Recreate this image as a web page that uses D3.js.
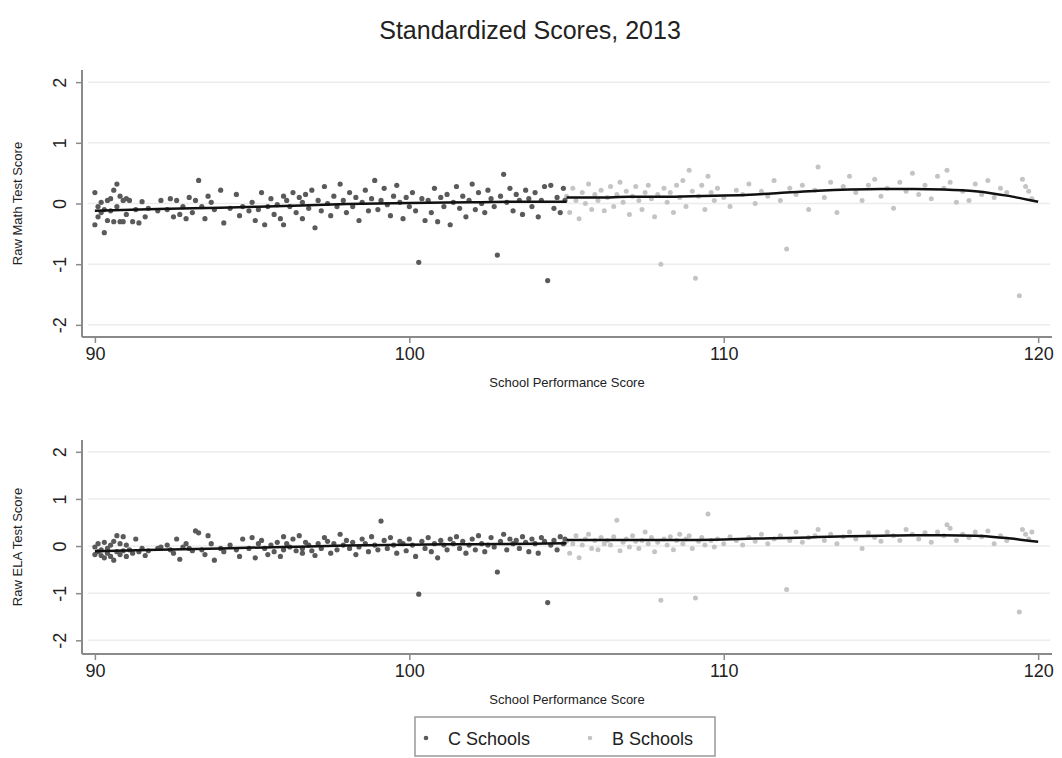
<!DOCTYPE html>
<html>
<head>
<meta charset="utf-8">
<script src="https://cdn.jsdelivr.net/npm/d3@7"></script>
<style>
  body { margin: 0; background: #fff; }
  text { font-family: "Liberation Sans", Arial, sans-serif; fill: #222; }
</style>
</head>
<body>
<div id="chart"></div>
<script>
// C schools: x = school performance score, shared by both panels
var cX = [90.0,90.0,90.1,90.1,90.2,90.2,90.3,90.3,90.4,90.4,90.5,90.5,90.6,90.6,90.7,90.7,90.8,90.8,90.9,90.9,
  91.0,91.0,91.1,91.2,91.3,91.4,91.5,91.6,91.7,
  92.0,92.1,92.3,92.4,92.5,92.6,92.7,92.8,92.9,93.0,93.1,93.2,93.3,93.4,93.5,93.6,93.7,93.8,
  94.0,94.1,94.3,94.5,94.6,94.7,94.9,95.0,95.1,95.2,95.3,95.4,95.5,95.6,95.7,95.8,95.9,
  96.0,96.0,96.1,96.2,96.3,96.4,96.5,96.6,96.6,96.7,96.8,96.9,97.0,97.1,97.2,97.3,97.4,97.5,97.6,97.7,97.8,97.9,
  98.0,98.1,98.2,98.3,98.4,98.5,98.6,98.7,98.8,98.9,99.0,99.1,99.2,99.3,99.4,99.5,99.6,99.7,99.8,99.9,
  100.0,100.1,100.2,100.3,100.4,100.5,100.6,100.7,100.8,100.9,101.0,101.1,101.2,101.3,101.4,101.5,101.6,101.7,101.8,101.9,
  102.0,102.1,102.2,102.3,102.4,102.5,102.6,102.7,102.8,102.9,103.0,103.1,103.2,103.3,103.4,103.5,103.6,103.7,103.8,103.9,
  104.0,104.1,104.2,104.3,104.4,104.5,104.6,104.7,104.8,104.9,104.95];
var cMath = [0.18,-0.35,-0.05,-0.22,0.02,-0.15,-0.48,-0.10,0.05,-0.28,-0.12,0.08,-0.30,0.22,0.32,-0.05,0.12,-0.30,0.05,-0.30,
  0.08,-0.18,0.05,-0.30,-0.10,-0.32,0.03,-0.22,-0.08,
  -0.12,0.05,-0.10,0.08,-0.22,0.05,-0.18,-0.05,-0.25,0.10,-0.15,0.05,0.38,-0.05,-0.25,0.12,0.02,-0.10,
  0.22,-0.32,-0.08,0.15,-0.20,-0.05,-0.12,0.02,-0.28,-0.10,0.18,-0.35,-0.05,0.08,-0.18,-0.02,-0.25,
  0.12,-0.35,0.05,-0.05,0.18,-0.15,0.10,0.02,-0.25,0.15,-0.08,0.22,-0.40,0.05,-0.12,0.28,0.00,-0.20,0.12,-0.05,0.32,0.05,
  -0.15,0.18,-0.05,0.10,-0.28,0.02,0.22,-0.12,0.08,0.38,-0.10,0.05,0.25,-0.02,-0.20,0.12,0.30,0.02,-0.25,0.10,
  -0.05,0.18,-0.12,-0.97,0.08,-0.28,0.05,-0.15,0.25,-0.30,0.10,-0.05,0.15,-0.35,0.02,0.28,-0.08,0.12,-0.22,0.05,
  0.32,-0.10,0.18,0.00,-0.15,0.22,0.08,-0.05,-0.85,0.12,0.48,0.02,0.25,-0.12,0.15,0.05,-0.18,0.22,0.08,-0.05,
  0.18,-0.22,0.05,0.28,-1.27,0.30,-0.08,0.10,-0.15,0.25,0.05];
var cEla = [-0.02,-0.18,0.05,-0.12,-0.20,-0.08,-0.25,0.08,-0.15,-0.05,0.02,-0.22,-0.30,0.10,0.22,-0.12,0.05,-0.18,0.20,-0.10,
  0.02,-0.22,-0.08,-0.15,0.15,-0.12,-0.05,-0.20,-0.10,
  -0.05,-0.02,0.02,-0.08,-0.15,0.15,-0.28,-0.02,0.05,-0.05,-0.10,0.32,0.28,-0.08,-0.18,0.22,0.05,-0.30,
  -0.05,-0.12,0.02,-0.08,-0.22,0.15,-0.05,0.18,-0.25,0.05,0.12,-0.05,-0.18,0.02,-0.12,0.08,-0.22,
  0.20,-0.08,0.05,-0.02,0.15,-0.10,0.22,-0.05,-0.15,0.08,0.02,-0.10,-0.20,0.05,-0.05,0.18,0.10,-0.15,0.05,-0.08,0.25,0.02,
  0.12,-0.05,0.08,-0.18,-0.02,0.15,0.05,-0.12,0.20,0.02,-0.08,0.53,0.12,-0.05,0.18,0.02,-0.15,0.10,0.05,-0.10,
  0.15,0.02,-0.22,-1.02,0.10,-0.05,0.18,-0.12,0.05,-0.25,0.12,0.02,-0.08,0.15,0.05,0.20,-0.05,0.10,-0.15,0.02,
  0.15,-0.08,0.22,0.05,-0.12,0.02,0.18,-0.02,-0.55,0.10,0.25,-0.08,0.15,0.05,0.12,-0.05,0.20,0.08,-0.12,0.15,
  0.05,-0.15,0.18,0.10,-1.20,0.02,0.12,-0.08,0.20,0.05,0.15];

// B schools
var bX = [105.0,105.1,105.2,105.3,105.4,105.5,105.6,105.7,105.8,105.9,106.0,106.1,106.2,106.3,106.4,106.5,106.6,106.7,106.8,106.9,
  107.0,107.1,107.2,107.3,107.4,107.5,107.6,107.7,107.8,107.9,108.0,108.1,108.2,108.3,108.4,108.5,108.6,108.7,108.8,108.9,
  109.0,109.1,109.2,109.3,109.4,109.5,109.6,109.7,109.8,110.0,110.2,110.4,110.6,110.8,111.0,111.2,111.4,111.6,111.8,
  112.0,112.1,112.3,112.5,112.7,112.9,113.0,113.2,113.4,113.6,113.8,114.0,114.2,114.4,114.6,114.8,
  115.0,115.2,115.4,115.6,115.8,116.0,116.2,116.4,116.6,116.8,117.0,117.1,117.2,117.4,117.6,117.8,
  118.0,118.2,118.4,118.6,118.8,119.0,119.4,119.5,119.6,119.7,119.8];
var bMath = [0.12,-0.15,0.25,0.05,-0.25,0.18,0.00,0.32,-0.10,0.15,0.05,0.22,-0.12,0.10,0.28,-0.05,0.15,0.35,0.02,0.20,
  -0.18,0.12,0.28,0.05,-0.10,0.18,0.30,0.08,-0.22,0.15,-1.00,0.25,0.02,0.18,-0.15,0.30,0.10,0.38,-0.05,0.55,
  0.20,-1.23,0.12,0.30,-0.10,0.45,0.18,0.05,0.25,0.10,-0.05,0.22,0.15,0.32,0.00,0.20,0.12,0.38,0.05,
  -0.75,0.25,0.15,0.30,-0.10,0.22,0.60,0.10,0.35,-0.15,0.28,0.45,0.18,0.05,0.30,0.40,
  0.12,0.25,-0.08,0.35,0.20,0.50,0.15,0.30,0.08,0.45,0.25,0.55,0.35,0.02,0.20,0.05,
  0.32,0.15,0.38,0.10,0.25,0.18,-1.52,0.40,0.28,0.20,0.08];
var bEla = [0.10,-0.15,0.05,0.22,-0.25,0.02,0.15,0.25,-0.05,0.12,-0.08,0.18,0.05,0.12,0.02,0.20,0.55,-0.10,0.08,0.15,
  -0.02,0.22,0.10,-0.05,0.12,0.30,0.05,0.18,-0.12,0.08,-1.15,0.15,0.02,0.20,-0.08,0.12,0.25,0.05,0.15,0.22,
  -0.05,-1.10,0.10,0.18,0.02,0.68,0.12,-0.02,0.15,0.05,0.20,0.12,0.02,0.18,0.10,0.25,0.05,0.15,0.22,
  -0.92,0.12,0.30,0.08,0.18,0.22,0.35,0.12,0.25,0.05,0.20,0.30,0.15,-0.05,0.28,0.18,
  0.10,0.30,0.22,0.12,0.35,0.25,0.15,0.28,0.08,0.30,0.22,0.45,0.38,0.12,0.25,0.18,
  0.30,0.20,0.32,0.05,0.22,0.12,-1.40,0.35,0.25,0.15,0.30];

// smoothed fits
var cFitX = [90, 92, 94, 96, 98, 100, 102, 104, 105];
var cFitMath = [-0.12, -0.09, -0.07, -0.04, -0.01, 0.01, 0.02, 0.03, 0.03];
var cFitEla = [-0.11, -0.08, -0.05, -0.02, 0.01, 0.03, 0.04, 0.05, 0.06];
var bFitX = [105, 106, 107, 108, 109, 110, 111, 112, 113, 114, 115, 116, 117, 118, 118.5, 119, 119.5, 120];
var bFitMath = [0.10, 0.10, 0.11, 0.11, 0.12, 0.13, 0.15, 0.18, 0.21, 0.23, 0.24, 0.24, 0.23, 0.20, 0.17, 0.13, 0.08, 0.03];
var bFitEla = [0.13, 0.13, 0.13, 0.13, 0.13, 0.14, 0.16, 0.17, 0.19, 0.21, 0.22, 0.23, 0.23, 0.22, 0.20, 0.17, 0.13, 0.09];

var xTicks = [90, 100, 110, 120];
var yTicks = [-2, -1, 0, 1, 2];
var legendLabels = ["C Schools", "B Schools"];

var W = 1062, H = 758;
var cColor = "#5a5a5a", bColor = "#c4c4c4";

var svg = d3.select("#chart").append("svg")
    .attr("width", W)
    .attr("height", H);

svg.append("text")
    .attr("x", 530).attr("y", 39)
    .attr("text-anchor", "middle")
    .style("font-size", "25px")
    .attr("fill", "#1a1a1a")
    .text("Standardized Scores, 2013");

function drawPanel(p) {
    var x = d3.scaleLinear().domain([89.59, 120.44]).range([82, 1052]);
    var y = d3.scaleLinear().domain(p.yDomain).range([p.bottom, p.top]);
    var g = svg.append("g");

    // gridlines
    g.selectAll("line.grid").data(yTicks).enter().append("line")
        .attr("x1", 88).attr("x2", 1050)
        .attr("y1", d => y(d)).attr("y2", d => y(d))
        .attr("stroke", "#ececec").attr("stroke-width", 1.5);

    // y axis (plain hyphen for negatives, like Stata)
    var yAxis = g.append("g")
        .attr("transform", "translate(82,0)")
        .call(d3.axisLeft(y).tickValues(yTicks).tickSize(6).tickFormat(d => String(d)));
    yAxis.select(".domain").attr("stroke", "#8a8a8a").attr("stroke-width", 2)
        .attr("d", "M0," + p.top + "V" + p.bottom);
    yAxis.selectAll(".tick line").attr("stroke", "#8a8a8a").attr("stroke-width", 1.5);
    yAxis.selectAll(".tick text")
        .attr("x", 0)
        .attr("text-anchor", "middle")
        .attr("transform", "translate(-22,0) rotate(-90)")
        .attr("dy", "0.35em")
        .style("font-size", "18px").style("font-family", "Liberation Sans, Arial, sans-serif")
        .attr("fill", "#222");

    // x axis
    var xAxis = g.append("g")
        .attr("transform", "translate(0," + p.bottom + ")")
        .call(d3.axisBottom(x).tickValues(xTicks).tickSize(6).tickFormat(d => String(d)));
    xAxis.select(".domain").attr("stroke", "#8a8a8a").attr("stroke-width", 2)
        .attr("d", "M82,0H1052");
    xAxis.selectAll(".tick line").attr("stroke", "#8a8a8a").attr("stroke-width", 1.5);
    xAxis.selectAll(".tick text")
        .attr("y", 10)
        .style("font-size", "18px").style("font-family", "Liberation Sans, Arial, sans-serif")
        .attr("fill", "#222");

    g.append("text")
        .attr("x", 567).attr("y", p.bottom + 50)
        .attr("text-anchor", "middle")
        .style("font-size", "13px")
        .text("School Performance Score");

    g.append("text")
        .attr("transform", "translate(22," + ((p.top + p.bottom) / 2) + ") rotate(-90)")
        .attr("text-anchor", "middle")
        .style("font-size", "13px")
        .text(p.yTitle);

    // points
    g.selectAll("circle.b").data(bX).enter().append("circle")
        .attr("cx", d => x(d))
        .attr("cy", (d, i) => y(p.bY[i]))
        .attr("r", 2.5).attr("fill", bColor);
    g.selectAll("circle.c").data(cX).enter().append("circle")
        .attr("cx", d => x(d))
        .attr("cy", (d, i) => y(p.cY[i]))
        .attr("r", 2.6).attr("fill", cColor);

    // fitted curves
    var fit = d3.line().x(d => x(d[0])).y(d => y(d[1])).curve(d3.curveMonotoneX);
    g.append("path").datum(cFitX.map((v, i) => [v, p.cFit[i]]))
        .attr("d", fit).attr("fill", "none").attr("stroke", "#111").attr("stroke-width", 2.5);
    g.append("path").datum(bFitX.map((v, i) => [v, p.bFit[i]]))
        .attr("d", fit).attr("fill", "none").attr("stroke", "#111").attr("stroke-width", 2.5);
}

drawPanel({ top: 70, bottom: 337, yDomain: [-2.2, 2.2], yTitle: "Raw Math Test Score",
    cY: cMath, bY: bMath, cFit: cFitMath, bFit: bFitMath });
drawPanel({ top: 440, bottom: 654, yDomain: [-2.29, 2.25], yTitle: "Raw ELA Test Score",
    cY: cEla, bY: bEla, cFit: cFitEla, bFit: bFitEla });

// legend
var lg = svg.append("g");
lg.append("rect")
    .attr("x", 415).attr("y", 717).attr("width", 300).attr("height", 39)
    .attr("fill", "#fff").attr("stroke", "#999").attr("stroke-width", 1.5);
var lx = [426, 590];
var lc = [cColor, bColor];
legendLabels.forEach(function (lab, i) {
    lg.append("circle").attr("cx", lx[i]).attr("cy", 738).attr("r", 2.3).attr("fill", lc[i]);
    lg.append("text").attr("x", lx[i] + 22).attr("y", 745)
        .style("font-size", "18px").text(lab);
});
</script>
</body>
</html>
